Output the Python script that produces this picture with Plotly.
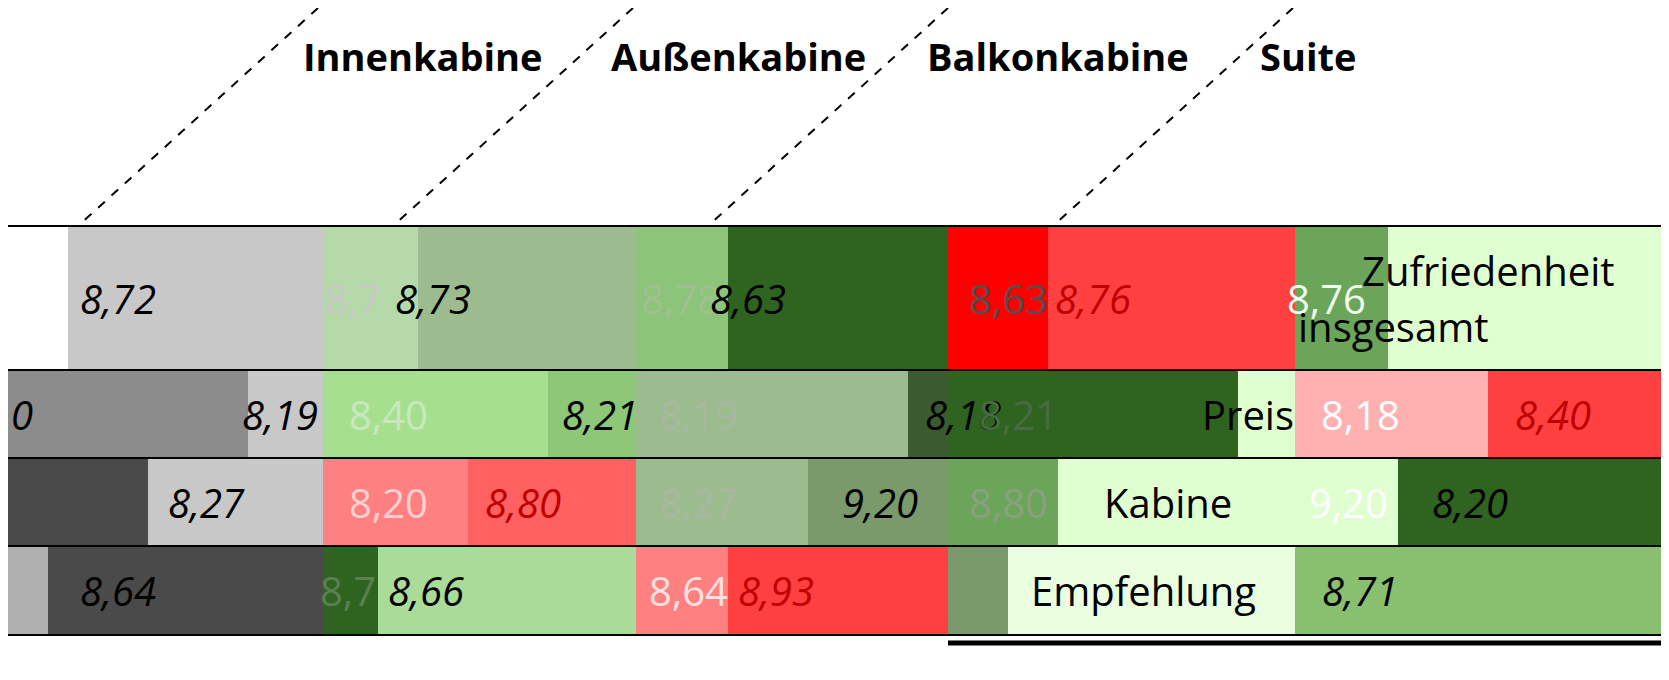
import plotly.graph_objects as go

headers = ["Innenkabine", "Außenkabine", "Balkonkabine", "Suite"]
header_x = [415, 730, 1050, 1300]
row_top = [218, 362, 450, 538]
row_bot = [362, 450, 538, 627]

# segments per row: (start, end, color)
segments = [
    [(0, 60, "#ffffff"), (60, 315, "#c8c8c8"), (315, 410, "#b5d9a8"), (410, 628, "#9cbb8e"),
     (628, 720, "#8cc47a"), (720, 940, "#2e6420"), (940, 1040, "#ff0000"), (1040, 1287, "#ff4040"),
     (1287, 1380, "#6aa55a"), (1380, 1669, "#e0ffd0")],
    [(0, 240, "#8c8c8c"), (240, 315, "#c8c8c8"), (315, 540, "#a6e08e"), (540, 628, "#8cc878"),
     (628, 900, "#9cbb8e"), (900, 940, "#3c5a30"), (940, 1230, "#2e6420"), (1230, 1287, "#e0ffd0"),
     (1287, 1480, "#ffb0b0"), (1480, 1669, "#ff4040")],
    [(0, 140, "#4a4a4a"), (140, 315, "#c8c8c8"), (315, 460, "#ff8080"), (460, 628, "#ff6060"),
     (628, 800, "#9cbb8e"), (800, 940, "#7a9a6c"), (940, 1050, "#6aa55a"), (1050, 1287, "#e0ffd0"),
     (1287, 1390, "#e0ffd0"), (1390, 1669, "#2e6420")],
    [(0, 40, "#b0b0b0"), (40, 315, "#4a4a4a"), (315, 370, "#2e6420"), (370, 628, "#a8dc98"),
     (628, 720, "#ff8080"), (720, 940, "#ff4040"), (940, 1000, "#7a9a6c"), (1000, 1287, "#eaffe0"),
     (1287, 1669, "#88c070")],
]

# texts per row: (x, text, color, italic)
texts = [
    [(110, "8,72", "black", True), (345, "8,7", "#c8c8c8", False), (425, "8,73", "black", True),
     (672, "8,78", "#a0c090", False), (740, "8,63", "black", True), (1000, "8,63", "#505050", False),
     (1085, "8,76", "#c00000", True), (1318, "8,76", "#f0fff0", False),
     (1480, "Zufriedenheit", "black", False)],
    [(14, "0", "black", True), (272, "8,19", "black", True), (380, "8,40", "#c8e8c0", False),
     (592, "8,21", "black", True), (690, "8,19", "#a8b8a0", False), (955, "8,18", "black", True),
     (1010, "8,21", "#4a6a40", False), (1240, "Preis", "black", False),
     (1352, "8,18", "#ffffff", False), (1545, "8,40", "#c00000", True)],
    [(198, "8,27", "black", True), (380, "8,20", "#ffd0d0", False), (515, "8,80", "#c00000", True),
     (690, "8,27", "#a8b8a0", False), (872, "9,20", "black", True), (1000, "8,80", "#8aa07e", False),
     (1160, "Kabine", "black", False), (1340, "9,20", "#ffffff", False), (1462, "8,20", "black", True)],
    [(110, "8,64", "black", True), (340, "8,7", "#5a8050", False), (418, "8,66", "black", True),
     (680, "8,64", "#ffe0e0", False), (768, "8,93", "#c00000", True),
     (1135, "Empfehlung", "black", False), (1352, "8,71", "black", True)],
]

fig = go.Figure()
for r, segs in enumerate(segments):
    yc = (row_top[r] + row_bot[r]) / 2
    h = row_bot[r] - row_top[r]
    for (s, e, c) in segs:
        fig.add_trace(go.Bar(orientation="h", base=[s], x=[e - s], y=[yc], width=[h],
                             marker=dict(color=c, line=dict(width=0)), showlegend=False,
                             hoverinfo="skip"))
    for (x, t, c, it) in texts[r]:
        fig.add_annotation(x=x, y=yc if t != "Zufriedenheit" else yc - 28, text=(f"<i>{t}</i>" if it else t),
                           showarrow=False, font=dict(family="Open Sans", size=40, color=c),
                           xanchor="center")
fig.add_annotation(x=1385, y=318, text="insgesamt", showarrow=False,
                   font=dict(family="Open Sans", size=40, color="black"))

for x, t in zip(header_x, headers):
    fig.add_annotation(x=x, y=48, text=f"<b>{t}</b>", showarrow=False,
                       font=dict(family="Open Sans", size=38, color="black"))

# row borders
for y in [218, 362, 450, 538, 627]:
    fig.add_shape(type="line", x0=0, x1=1669, y0=y, y1=y, line=dict(color="black", width=2))
fig.add_shape(type="line", x0=940, x1=1669, y0=635, y1=635, line=dict(color="black", width=5))
# dashed diagonals in header
for x0 in [310, 625, 940, 1285]:
    fig.add_shape(type="line", x0=x0, y0=0, x1=x0 - 240, y1=218,
                  line=dict(color="black", width=2, dash="dash"))
fig.add_shape(type="line", x0=1669, y0=0, x1=1669, y1=218, line=dict(color="black", width=2))

fig.update_layout(width=1669, height=680, margin=dict(l=0, r=0, t=0, b=0),
                  plot_bgcolor="white", paper_bgcolor="white", barmode="overlay",
                  xaxis=dict(range=[0, 1669], visible=False, fixedrange=True),
                  yaxis=dict(range=[680, 0], visible=False, fixedrange=True))
fig.write_html("out.html")
